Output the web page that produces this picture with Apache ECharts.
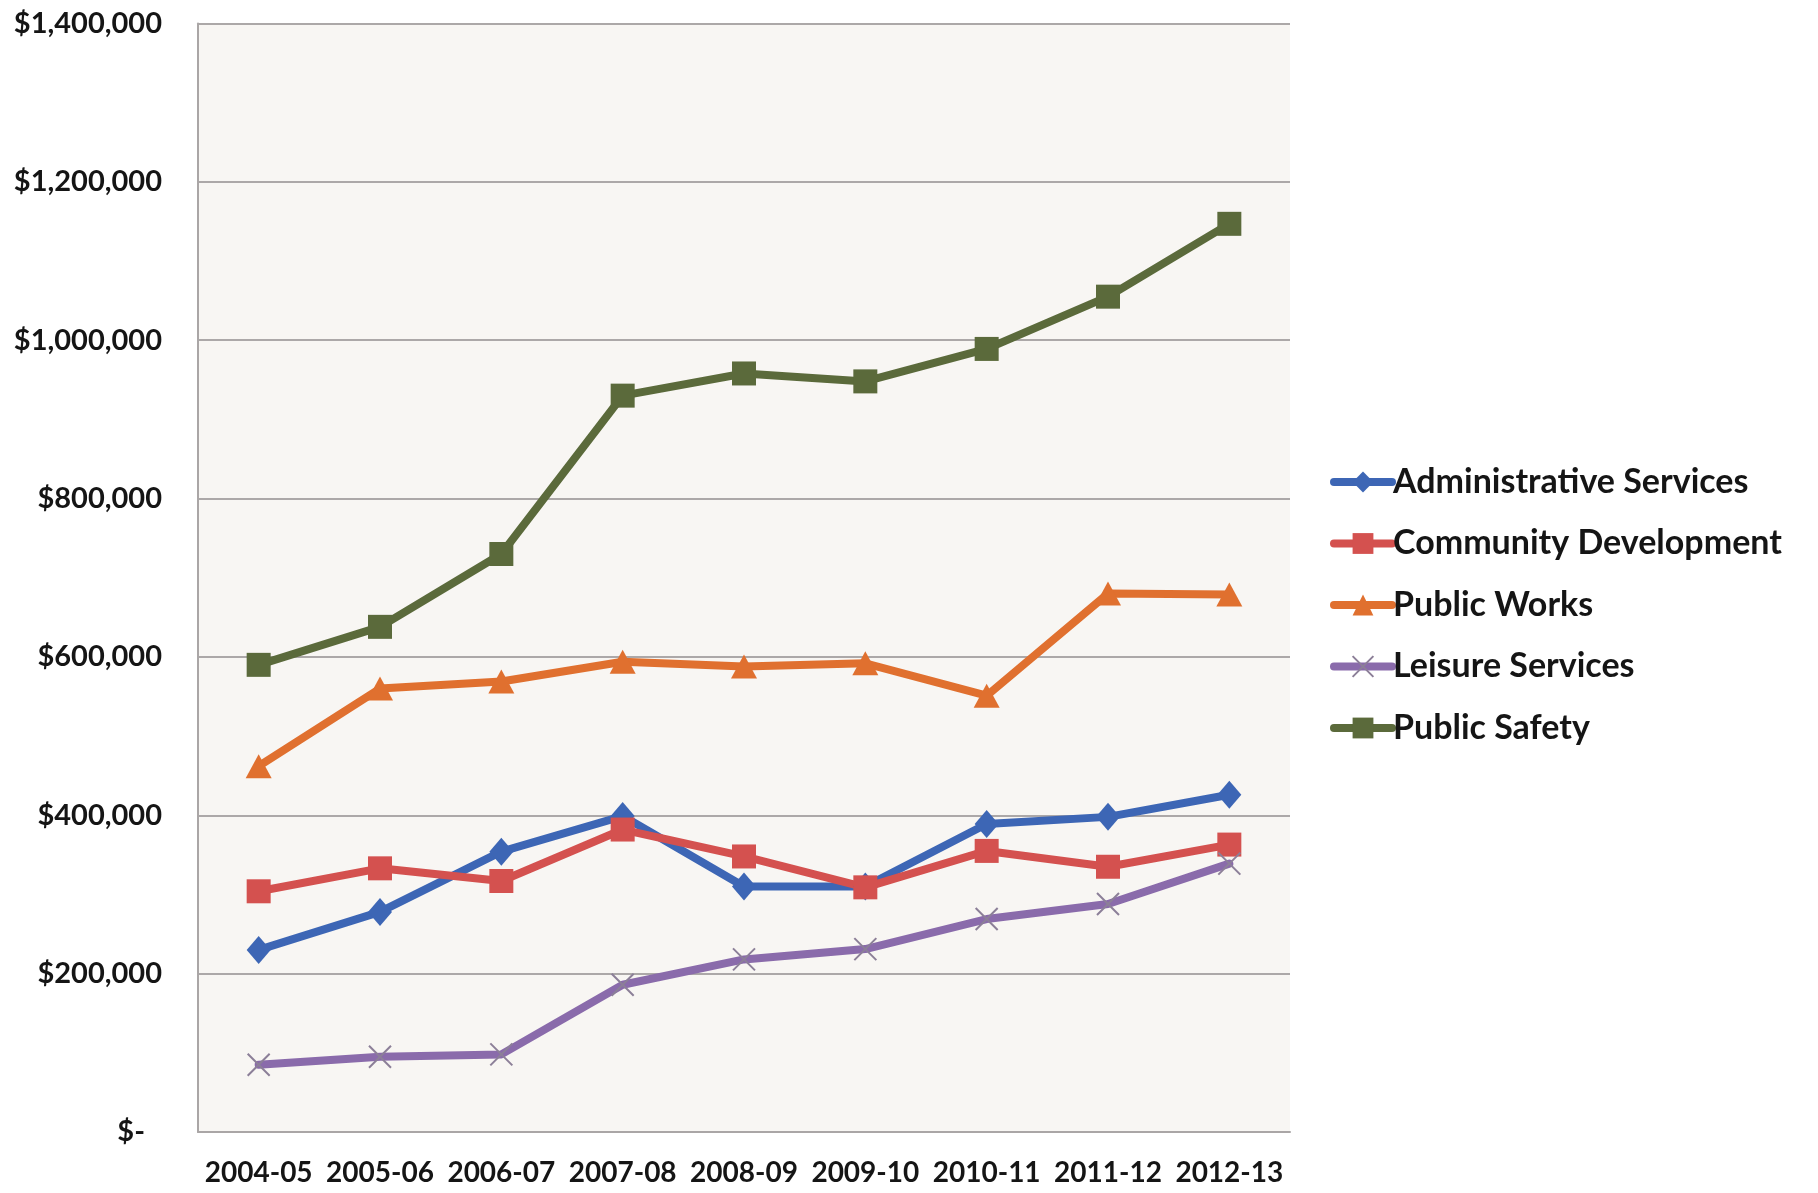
<!DOCTYPE html>
<html>
<head>
<meta charset="utf-8">
<title>Department Expenditures</title>
<script src="https://cdn.jsdelivr.net/npm/echarts@6/dist/echarts.min.js"></script>
<style>
  html, body { margin: 0; padding: 0; background: #ffffff; }
  #chart { width: 1818px; height: 1193px; }
</style>
</head>
<body>
<div id="chart"></div>
<script>
// Fiscal years on the category axis
const years = ['2004-05', '2005-06', '2006-07', '2007-08', '2008-09', '2009-10', '2010-11', '2011-12', '2012-13'];

// Spending by department, in dollars
const administrativeServices = [230000, 278000, 354000, 399000, 310000, 310000, 389000, 398000, 426000];
const communityDevelopment   = [304000, 333000, 317000, 382000, 348000, 309000, 355000, 335000, 363000];
const publicWorks            = [462000, 560000, 569000, 594000, 588000, 592000, 551000, 680000, 679000];
const leisureServices        = [85000, 95000, 98000, 186000, 218000, 231000, 269000, 288000, 339000];
const publicSafety           = [590000, 638000, 730000, 930000, 958000, 948000, 989000, 1055000, 1147000];

// Value axis range
const yMin = 0;
const yMax = 1400000;
const yStep = 200000;

const font = 'Lato, "Open Sans", "Noto Sans", sans-serif';
const ink = '#151515';

function money(v) {
  if (v === 0) return '{z|$-}';
  return '$' + v.toLocaleString('en-US');
}

function lineSeries(name, data, color, symbol, size, extra) {
  return Object.assign({
    name: name,
    type: 'line',
    data: data,
    symbol: symbol,
    symbolSize: size,
    showSymbol: true,
    lineStyle: { color: color, width: 8, cap: 'round', join: 'round' },
    itemStyle: { color: color },
    emphasis: { disabled: true },
    z: 3
  }, extra || {});
}

const chart = echarts.init(document.getElementById('chart'), null, { renderer: 'canvas' });

chart.setOption({
  backgroundColor: '#ffffff',
  animation: false,
  textStyle: { fontFamily: font },
  grid: {
    left: 198,
    right: 528,
    top: 23.5,
    bottom: 61,
    show: true,
    backgroundColor: '#f8f6f3',
    borderWidth: 0
  },
  legend: {
    orient: 'vertical',
    left: 1325,
    top: 460,
    itemWidth: 58,
    itemHeight: 26,
    itemGap: 27.5,
    lineStyle: { width: 8, cap: 'round' },
    textStyle: { fontFamily: font, fontSize: 34, fontWeight: 'bold', color: ink, lineHeight: 34, padding: [0, 0, 0, -4] },
    data: ['Administrative Services', 'Community Development', 'Public Works', 'Leisure Services', 'Public Safety']
  },
  xAxis: {
    type: 'category',
    data: years,
    boundaryGap: true,
    axisLine: { show: true, lineStyle: { color: '#aaa6a6', width: 2 } },
    axisTick: { show: false },
    axisLabel: {
      interval: 0,
      margin: 27,
      fontFamily: font,
      fontSize: 28,
      fontWeight: 'bold',
      color: ink
    },
    splitLine: { show: false }
  },
  yAxis: {
    type: 'value',
    min: yMin,
    max: yMax,
    interval: yStep,
    axisLine: { show: true, lineStyle: { color: '#aaa6a6', width: 2 } },
    axisTick: { show: false },
    axisLabel: {
      margin: 36,
      fontFamily: font,
      fontSize: 29,
      fontWeight: 'bold',
      color: ink,
      formatter: money,
      rich: {
        z: { fontFamily: font, fontSize: 29, fontWeight: 'bold', color: ink, padding: [0, 17, 0, 0] }
      }
    },
    splitLine: { show: true, lineStyle: { color: '#aca8a8', width: 2 } }
  },
  series: [
    lineSeries('Administrative Services', administrativeServices, '#3d66b5', 'diamond', [24, 28]),
    lineSeries('Community Development', communityDevelopment, '#d4514f', 'rect', 24),
    lineSeries('Public Works', publicWorks, '#e0702f', 'triangle', [26, 24]),
    lineSeries('Leisure Services', leisureServices, '#8a6bab', 'path://M0,0L10,10M10,0L0,10', 22, {
      itemStyle: { color: '#8a6bab', borderColor: '#8c7f98', borderWidth: 2 }
    }),
    lineSeries('Public Safety', publicSafety, '#5b6a3b', 'rect', 24)
  ]
});
</script>
</body>
</html>
